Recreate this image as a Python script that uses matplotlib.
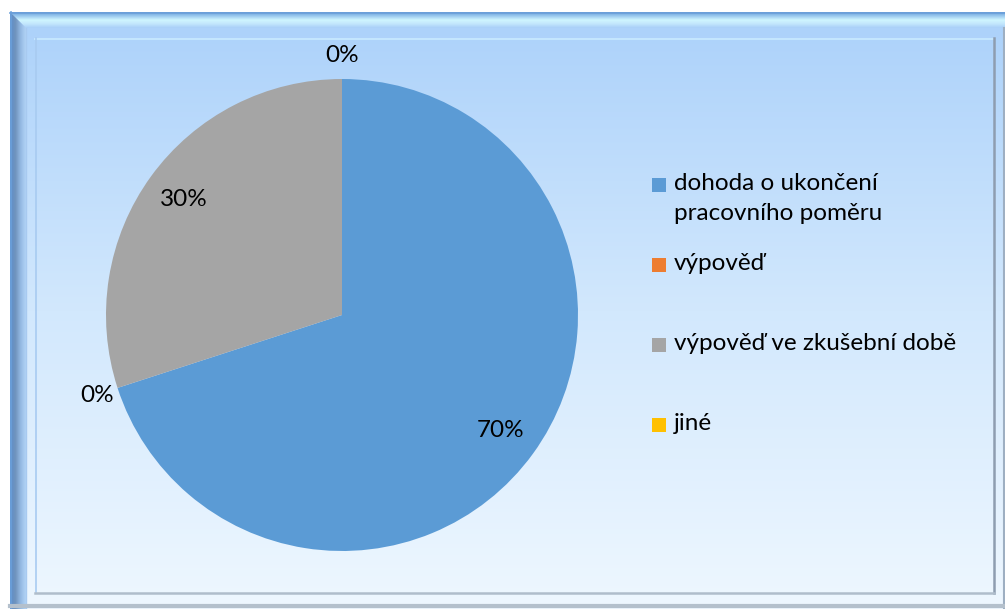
import numpy as np
import matplotlib
matplotlib.use("Agg")
import matplotlib.pyplot as plt
from matplotlib.patches import Rectangle, Polygon
from matplotlib.colors import LinearSegmentedColormap

categories = ["dohoda o ukončení\npracovního poměru", "výpověď",
              "výpověď ve zkušební době", "jiné"]
values = [70, 0, 30, 0]
colors = ["#5B9BD5", "#ED7D31", "#A5A5A5", "#FFC000"]

plt.rcParams['font.family'] = ['Lato', 'DejaVu Sans']
W, H = 1005, 609
fig = plt.figure(figsize=(W / 100, H / 100), dpi=100)
fig.patch.set_facecolor("white")

# background frame axes in pixel coordinates
bg = fig.add_axes([0, 0, 1, 1])
bg.set_xlim(0, W)
bg.set_ylim(H, 0)
bg.axis("off")
grad = np.linspace(0, 1, 256).reshape(-1, 1)
cmap = LinearSegmentedColormap.from_list("g", ["#ABD1FA", "#D2E8FD", "#EEF7FF"])
bg.imshow(grad, extent=[10, W, H, 12], aspect="auto", cmap=cmap, zorder=0)

# top bevel (vertical gradient)
topc = LinearSegmentedColormap.from_list("t", ["#6A9FD8", "#9CCBF0", "#D0F6FF", "#C2E6FC", "#A9CFF8"])
im_t = bg.imshow(np.linspace(0, 1, 64).reshape(-1, 1), extent=[10, W, 28, 12],
                 aspect="auto", cmap=topc, zorder=1)
pt = Polygon([[10, 12], [W, 12], [W, 28], [26, 28]], closed=True,
             facecolor="none", edgecolor="none")
bg.add_patch(pt)
im_t.set_clip_path(pt)
# left bevel (horizontal gradient)
leftc = LinearSegmentedColormap.from_list("l", ["#5E8FCC", "#6F93BD", "#93B8E2", "#B2D4F6"])
im_l = bg.imshow(np.linspace(0, 1, 64).reshape(1, -1), extent=[10, 26, H, 12],
                 aspect="auto", cmap=leftc, zorder=1)
pl = Polygon([[10, 12], [26, 28], [26, H], [10, H]], closed=True,
             facecolor="none", edgecolor="none")
bg.add_patch(pl)
im_l.set_clip_path(pl)

bg.plot([10, W], [12.5, 12.5], color="#6B9FD9", lw=1.2, zorder=2)
bg.plot([10.5, 10.5], [12, H], color="#6A9FDA", lw=1.2, zorder=2)
bg.plot([26, 26], [28, H], color="#A8CAF0", lw=1, zorder=2)
# inner panel edges
bg.plot([35, 994], [38.5, 38.5], color="#C4E6FE", lw=1.5, zorder=2)
bg.plot([35.5, 35.5], [38, 592], color="#A8CBF1", lw=1.2, zorder=2)
bg.plot([993.5, 993.5], [38, 593], color="#8E9DB0", lw=1.8, zorder=2)
bg.plot([35, 994], [592.5, 592.5], color="#AFBDCB", lw=1.8, zorder=2)
# outer right/bottom
bg.plot([1003.5, 1003.5], [28, H], color="#9EAFC2", lw=1.5, zorder=2)
bg.plot([10, W], [606, 606], color="#B4C0CC", lw=3, zorder=2)

# pie
cx, cy, r = 342, 315, 236
ax = fig.add_axes([(cx - r) / W, (H - cy - r) / H, 2 * r / W, 2 * r / H])
ax.set_facecolor("none")
wedges, texts, autotexts = ax.pie(
    values, colors=colors, startangle=90, counterclock=False,
    autopct="%1.0f%%", pctdistance=0.83, radius=1.0,
    textprops=dict(fontsize=17.5, color="black"))
for w, t, v in zip(wedges, autotexts, values):
    if v == 0:
        ang = np.deg2rad(w.theta1)
        t.set_position((1.09 * np.cos(ang), 1.1 * np.sin(ang)))
ax.set_xlim(-1, 1)
ax.set_ylim(-1, 1)
ax.set_aspect("equal")

# legend (manual, Excel-like even spacing)
ys = [185, 265, 345, 425]
for lab, col, y in zip(categories, colors, ys):
    bg.add_patch(Rectangle((652, y - 7), 14, 14, facecolor=col,
                           edgecolor="none", zorder=3))
    bg.text(674, y - 12, lab, fontsize=17.5, va="top", ha="left",
            linespacing=1.5, zorder=3)

fig.savefig("out.png", dpi=100)
